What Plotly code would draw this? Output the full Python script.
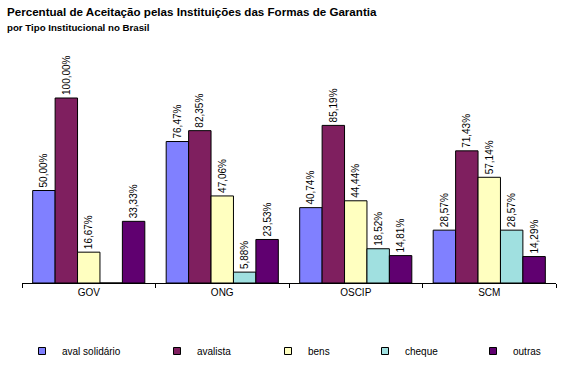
import plotly.graph_objects as go

categories = ["GOV", "ONG", "OSCIP", "SCM"]
series_names = ["aval solidário", "avalista", "bens", "cheque", "outras"]
aval_solidario = [50.00, 76.47, 40.74, 28.57]
avalista = [100.00, 82.35, 85.19, 71.43]
bens = [16.67, 47.06, 44.44, 57.14]
cheque = [0.0, 5.88, 18.52, 28.57]
outras = [33.33, 23.53, 14.81, 14.29]
series_values = [aval_solidario, avalista, bens, cheque, outras]
colors = ["#8080FF", "#7F1F5F", "#FFFFC0", "#A0E0E0", "#600070"]

FONT = "Liberation Sans, Arial, sans-serif"

def fmt(v):
    if v == 0:
        return ""
    return f"{v:.2f}%".replace(".", ",")

W, H = 582, 388
ML, MR, MT, MB = 22, 26, 61, 105
pw, ph = W - ML - MR, H - MT - MB

fig = go.Figure()
for name, vals, col in zip(series_names, series_values, colors):
    fig.add_trace(go.Bar(
        x=categories, y=vals, name=name, showlegend=False,
        marker=dict(color=col, line=dict(color="#000000", width=1)),
        text=[fmt(v) for v in vals],
        textposition="outside", textangle=-90, constraintext="none",
        textfont=dict(family=FONT, size=10, color="#000000"),
        cliponaxis=False, hoverinfo="skip",
    ))

# one legend per series so each entry sits where the reference puts it
legend_symbol_px = [47, 182, 293, 390, 498]
legend_ids = ["legend", "legend2", "legend3", "legend4", "legend5"]
layout_legends = {}
for i, (name, col) in enumerate(zip(series_names, colors)):
    lid = legend_ids[i]
    fig.add_trace(go.Scatter(
        x=[None], y=[None], mode="markers", name=name, legend=lid,
        marker=dict(symbol="square", size=7, color=col, line=dict(color="#000000", width=1)),
    ))
    lx = legend_symbol_px[i] - 5 - 20
    layout_legends[lid] = dict(
        orientation="h", x=(lx - ML) / pw, xanchor="left",
        y=(H - MB - 351) / ph, yanchor="middle",
        font=dict(size=10, family=FONT), itemwidth=30,
        bgcolor="rgba(0,0,0,0)", borderwidth=0,
    )

fig.update_layout(
    width=W, height=H,
    barmode="group", bargap=0.16, bargroupgap=0,
    plot_bgcolor="white", paper_bgcolor="white",
    margin=dict(l=ML, r=MR, t=MT, b=MB, autoexpand=False),
    font=dict(family=FONT, size=10, color="#000000"),
    xaxis=dict(showline=True, linecolor="#000000", linewidth=1,
               ticks="outside", tickson="boundaries", ticklen=4, tickcolor="#000000",
               showgrid=False, tickfont=dict(size=10), automargin=False),
    yaxis=dict(range=[0, 120], visible=False, showgrid=False),
    **layout_legends,
)
fig.add_annotation(text="<b>Percentual de Aceitação pelas Instituições das Formas de Garantia</b>",
                   x=(5 - ML) / pw, y=(H - MB - 11) / ph, xref="paper", yref="paper",
                   xanchor="left", yanchor="middle", showarrow=False,
                   font=dict(size=11.6, family=FONT))
fig.add_annotation(text="<b>por Tipo Institucional no Brasil</b>",
                   x=(5 - ML) / pw, y=(H - MB - 27) / ph, xref="paper", yref="paper",
                   xanchor="left", yanchor="middle", showarrow=False,
                   font=dict(size=9.7, family=FONT))
fig.write_html("out.html", config={"displayModeBar": False},
               post_script="document.body.style.margin='0';")
